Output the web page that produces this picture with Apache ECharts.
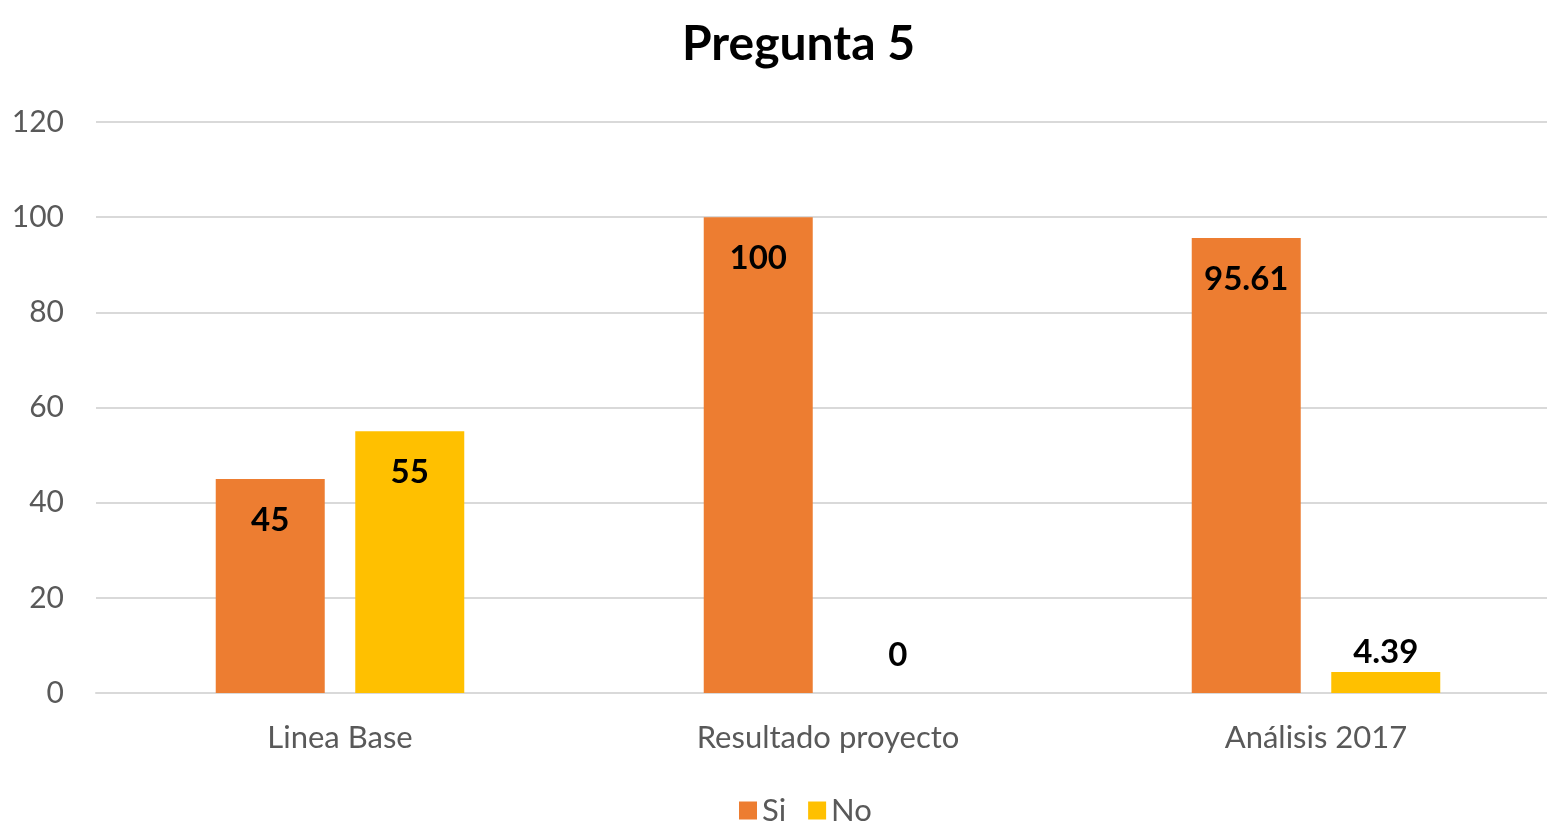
<!DOCTYPE html>
<html>
<head>
<meta charset="utf-8">
<title>Pregunta 5</title>
<script src="https://cdn.jsdelivr.net/npm/echarts@6/dist/echarts.min.js"></script>
<style>
  html, body { margin: 0; padding: 0; background: #fff; }
  #chart { width: 1547px; height: 823px; }
</style>
</head>
<body>
<div id="chart"></div>
<script>
// chart data
const categories = ['Linea Base', 'Resultado proyecto', 'Análisis 2017']
const siValues = [45, 100, 95.61]
const noValues = [55, 0, 4.39]
const yTicks = [0, 20, 40, 60, 80, 100, 120]

const font = 'Lato, "Open Sans", sans-serif'

// short bars get their label above the bar, like the original
function noData(vals) {
  return vals.map(v => {
    if (v < 10) {
      return { value: v, label: { position: 'top', distance: v === 0 ? 21 : 3 } }
    }
    return v
  })
}

const chart = echarts.init(document.getElementById('chart'))
chart.setOption({
  animation: false,
  textStyle: { fontFamily: font },
  title: {
    text: 'Pregunta 5',
    left: 677,
    top: 16,
    textStyle: { fontFamily: font, fontSize: 48, fontWeight: 'bold', color: '#000' }
  },
  legend: {
    data: ['Si', 'No'],
    bottom: -8,
    left: 734,
    itemWidth: 18,
    itemHeight: 18,
    itemGap: 22,
    icon: 'rect',
    textStyle: { fontFamily: font, fontSize: 31, color: '#595959' }
  },
  grid: {
    left: 96,
    right: -13,
    top: 122,
    bottom: 130,
    containLabel: false,
    outerBoundsMode: 'none'
  },
  xAxis: {
    type: 'category',
    data: categories,
    axisTick: { show: false },
    axisLine: { lineStyle: { color: '#d9d9d9', width: 2 } },
    axisLabel: { fontFamily: font, fontSize: 31, color: '#595959', margin: 29 }
  },
  yAxis: {
    type: 'value',
    min: yTicks[0],
    max: yTicks[yTicks.length - 1],
    interval: 20,
    axisLine: { show: false },
    axisTick: { show: false },
    splitLine: { lineStyle: { color: '#d9d9d9', width: 2 } },
    axisLabel: { fontFamily: font, fontSize: 30, color: '#595959', margin: 32 }
  },
  series: [
    {
      name: 'Si',
      type: 'bar',
      data: siValues,
      barWidth: 109,
      barGap: '28%',
      itemStyle: { color: '#ED7D31' },
      label: {
        show: true,
        position: 'insideTop',
        distance: 25,
        fontFamily: font,
        fontSize: 33,
        fontWeight: 'bold',
        color: '#000'
      }
    },
    {
      name: 'No',
      type: 'bar',
      data: noData(noValues),
      barWidth: 109,
      itemStyle: { color: '#FFC000' },
      label: {
        show: true,
        position: 'insideTop',
        distance: 25,
        fontFamily: font,
        fontSize: 33,
        fontWeight: 'bold',
        color: '#000'
      }
    }
  ]
})
</script>
</body>
</html>
